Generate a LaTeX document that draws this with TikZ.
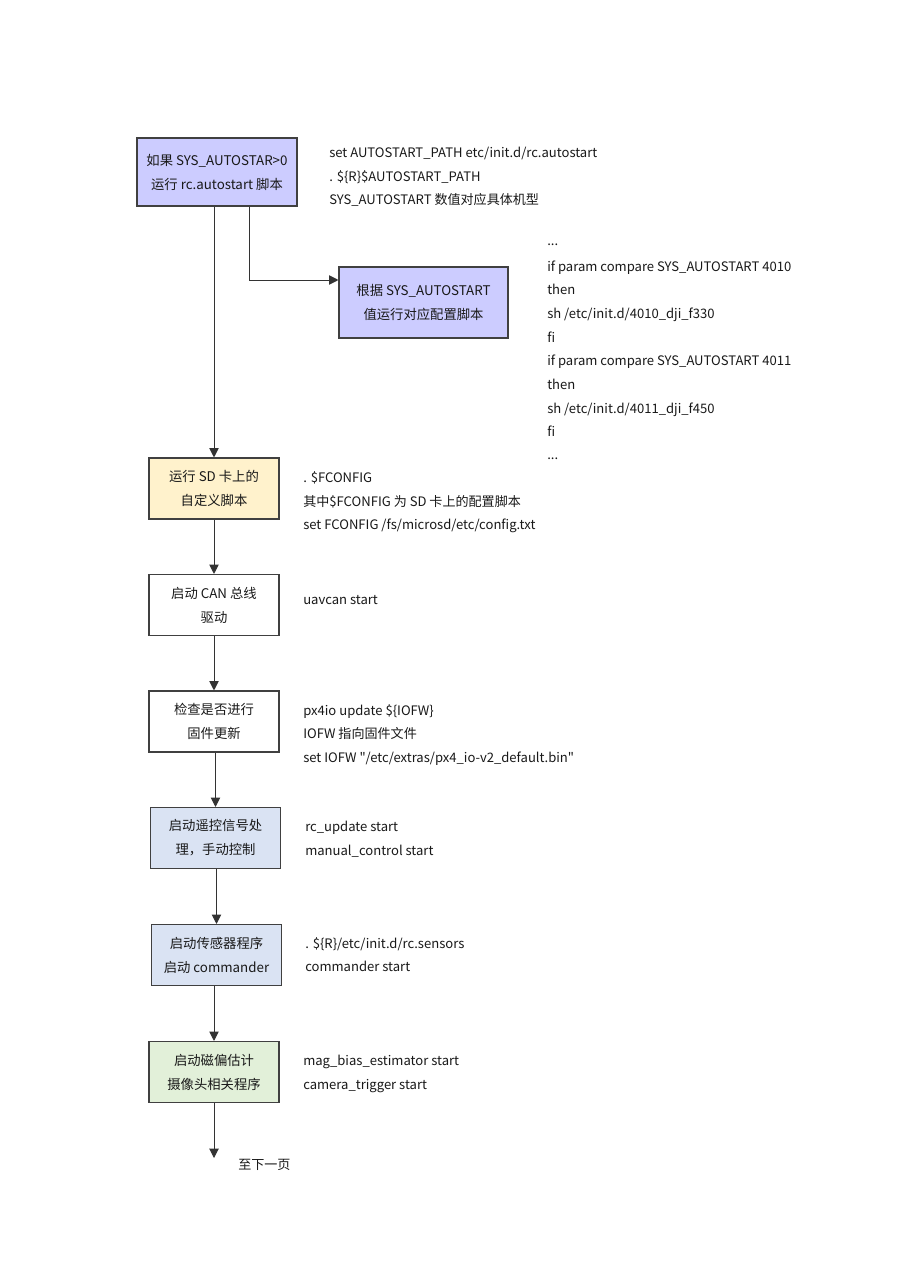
\documentclass[tikz,border=0pt]{standalone}
\usepackage{fontspec}
\setmainfont{Noto Sans CJK SC}
\newfontfamily\nomapfont{Noto Sans CJK SC}[Ligatures=ResetAll]
\usetikzlibrary{arrows.meta}
\definecolor{lav}{HTML}{CCCCFF}
\definecolor{ylw}{HTML}{FFF2CC}
\definecolor{lblue}{HTML}{DAE3F3}
\definecolor{lgreen}{HTML}{E2F0D9}
\definecolor{edge}{HTML}{404040}
\tikzset{
  box/.style={draw=edge, line width=0.8pt, align=center, inner sep=0pt,
    font=\fontsize{10}{18}\selectfont, text=black!90},
  stepbox/.style={box, minimum width=97.5pt, minimum height=45.75pt},
  code/.style={anchor=west, inner sep=0pt, text height=7.5pt, text depth=2pt,
    yshift=-1pt, font=\fontsize{9.8}{12}\selectfont, text=black!90},
  arr/.style={draw=black!80, line width=0.75pt, -{Triangle[length=7pt,width=7pt]}}
}
\begin{document}
\begin{tikzpicture}[x=0.75pt,y=-0.75pt]
\useasboundingbox[fill=white] (0,0) rectangle (905,1280);

% boxes
\node[box, fill=lav, minimum width=120pt, minimum height=51pt] (A) at (217,172)
  {如果 SYS\_AUTOSTAR>0\\运行 rc.autostart 脚本};
\node[box, fill=lav, minimum width=126.75pt, minimum height=53.25pt] (B) at (423.5,302.5)
  {根据 SYS\_AUTOSTART\\值运行对应配置脚本};
\node[stepbox, fill=ylw] (C) at (214,488.5) {运行 SD 卡上的\\自定义脚本};
\node[stepbox, fill=white] (D) at (214,605) {启动 CAN 总线\\驱动};
\node[stepbox, fill=white] (E) at (214,721.5) {检查是否进行\\固件更新};
\node[stepbox, fill=lblue] (F) at (215.5,838) {启动遥控信号处\\理，手动控制};
\node[stepbox, fill=lblue] (G) at (216.5,955) {启动传感器程序\\启动 commander};
\node[stepbox, fill=lgreen] (H) at (214,1072) {启动磁偏估计\\摄像头相关程序};

% connectors
\coordinate (k1) at (249,280);
\draw[arr] (A.south -| k1) |- (B.west |- k1);
\draw[arr] (A.south -| C.north) -- (C.north);
\draw[arr] (C.south) -- (D.north);
\draw[arr] (D.south) -- (E.north);
\draw[arr] (E.south -| F.north) -- (F.north);
\draw[arr] (F.south -| G.north) -- (G.north);
\draw[arr] (G.south -| H.north) -- (H.north);
\coordinate (endp) at (214,1158);
\draw[arr] (H.south) -- (endp);
\node[code] (next) at (238,1164) {至下一页};

% annotations
\node[code] (a1) at (329,153) {set AUTOSTART\_PATH etc/init.d/rc.autostart};
\node[code] (a2) at (329,177) {. \$\{R\}\$AUTOSTART\_PATH};
\node[code] (a3) at (329,200) {SYS\_AUTOSTART 数值对应具体机型};

\node[code] (b1) at (547,241) {...};
\node[code] (b2) at (547,266) {if param compare SYS\_AUTOSTART 4010};
\node[code] (b3) at (547,289) {then};
\node[code] (b4) at (547,313) {sh /etc/init.d/4010\_dji\_f330};
\node[code] (b5) at (547,337) {fi};
\node[code] (b6) at (547,360) {if param compare SYS\_AUTOSTART 4011};
\node[code] (b7) at (547,384) {then};
\node[code] (b8) at (547,408) {sh /etc/init.d/4011\_dji\_f450};
\node[code] (b9) at (547,431) {fi};
\node[code] (b10) at (547,454) {...};

\node[code] (c1) at (303,477) {. \$FCONFIG};
\node[code] (c2) at (303,501) {其中\$FCONFIG 为 SD 卡上的配置脚本};
\node[code] (c3) at (303,524) {set FCONFIG /fs/microsd/etc/config.txt};

\node[code] (d1) at (303,599) {uavcan start};

\node[code] (e1) at (303,710) {px4io update \$\{IOFW\}};
\node[code] (e2) at (303,733) {IOFW 指向固件文件};
\node[code] (e3) at (303,757) {set IOFW {\nomapfont "/etc/extras/px4\_io-v2\_default.bin"}};

\node[code] (f1) at (305,826) {rc\_update start};
\node[code] (f2) at (305,850) {manual\_control start};

\node[code] (g1) at (305,943) {. \$\{R\}/etc/init.d/rc.sensors};
\node[code] (g2) at (305,966) {commander start};

\node[code] (h1) at (303,1060) {mag\_bias\_estimator start};
\node[code] (h2) at (303,1084) {camera\_trigger start};
\end{tikzpicture}
\end{document}
